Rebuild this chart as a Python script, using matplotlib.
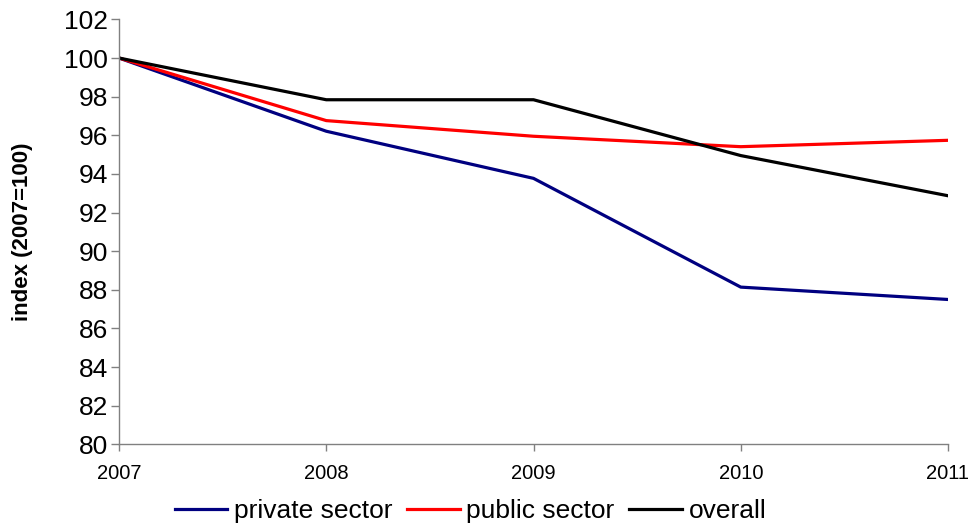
import matplotlib
matplotlib.use("Agg")
import matplotlib.pyplot as plt

plt.rcParams["font.family"] = ["Liberation Sans", "DejaVu Sans"]

years = [2007, 2008, 2009, 2010, 2011]
private_sector = [100.0, 96.21, 93.77, 88.14, 87.5]
public_sector = [100.0, 96.76, 95.95, 95.41, 95.74]
overall = [100.0, 97.84, 97.84, 94.95, 92.87]
y_ticks = list(range(80, 103, 2))

fig = plt.figure(figsize=(9.74, 5.24), dpi=100)
ax = fig.add_axes([0.1222, 0.152, 0.8511, 0.811])

ax.plot(years, private_sector, color="#000080", lw=2.3, label="private sector")
ax.plot(years, public_sector, color="#ff0000", lw=2.3, label="public sector")
ax.plot(years, overall, color="#000000", lw=2.3, label="overall")

ax.set_xlim(2007, 2011)
ax.set_ylim(80, 102)
ax.set_xticks(years)
ax.set_yticks(y_ticks)
ax.tick_params(axis="y", labelsize=19, length=6, width=1, color="#808080", pad=2)
ax.tick_params(axis="x", labelsize=14.5, length=5, width=1, color="#808080", pad=9)
for s in ("top", "right"):
    ax.spines[s].set_visible(False)
for s in ("left", "bottom"):
    ax.spines[s].set_color("#808080")
    ax.spines[s].set_linewidth(1)
ax.set_ylabel("index (2007=100)", fontsize=16, fontweight="bold")
ax.yaxis.set_label_coords(-0.104, 0.5)

fig.legend(loc="center", bbox_to_anchor=(0.483, 13 / 524), ncol=3, frameon=False,
           fontsize=19, handlelength=2.0, handletextpad=0.25, columnspacing=0.55,
           borderpad=0, borderaxespad=0)

fig.savefig("out.png", dpi=100)
